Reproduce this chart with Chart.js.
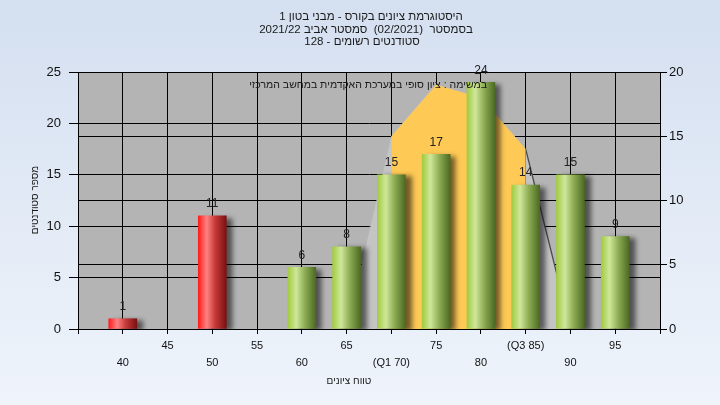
<!DOCTYPE html>
<html><head><meta charset="utf-8">
<script src="https://cdn.jsdelivr.net/npm/chart.js@4"></script>
<style>
html,body{margin:0;padding:0;width:720px;height:405px;overflow:hidden;background:linear-gradient(#d4dff0,#eff4fb);}
canvas{display:block;}
</style></head><body>
<canvas id="c" width="720" height="405"></canvas>
<script>
const titleLines = ['היסטוגרמת ציונים בקורס - מבני בטון 1', 'בסמסטר  (02/2021)  סמסטר אביב 2021/22', 'סטודנטים רשומים - 128'];
const legendText = 'במשימה : ציון סופי במערכת האקדמית במחשב המרכזי';
const xTitle = 'טווח ציונים';
const yTitle = 'מספר סטודנטים';
const grades = [40, 45, 50, 55, 60, 65, 70, 75, 80, 85, 90, 95];
const counts = [1, 0, 11, 0, 6, 8, 15, 17, 24, 14, 15, 9];
const passGrade = 56;
const curveGrades = [65, 70, 75, 80, 85, 90];
const curveValues = [0, 15, 19, 18, 14, 0];
const iqrGrades = [70, 75, 80, 85];
const iqrValues = [15, 19, 18, 14];
const specialTicks = {70: '(Q1 70)', 85: '(Q3 85)'};
const xMin = 35, xMax = 100;

const FONT = "'Liberation Sans','DejaVu Sans',Arial,sans-serif";

function barFill(c) {
  const chart = c.chart;
  const xs = chart.scales && chart.scales.x;
  if (!c.raw || !c.raw.y) return 'rgba(0,0,0,0)';
  const red = c.raw.x < passGrade;
  if (!xs) return red ? '#e03030' : '#9cc53c';
  const cx = xs.getPixelForValue(c.raw.x);
  if (!isFinite(cx)) return red ? '#e03030' : '#9cc53c';
  const half = 14;
  const g = chart.ctx.createLinearGradient(cx - half, 0, cx + half, 0);
  if (red) {
    g.addColorStop(0, '#ff1c1c'); g.addColorStop(0.3, '#ff8282');
    g.addColorStop(0.6, '#c83a3a'); g.addColorStop(1, '#7a1010');
  } else {
    g.addColorStop(0, '#a2cb40'); g.addColorStop(0.3, '#cfe79a');
    g.addColorStop(0.6, '#8fae55'); g.addColorStop(1, '#4c6a22');
  }
  return g;
}

const bgPlugin = {
  id: 'bg',
  beforeDraw(chart) {
    const a = chart.chartArea, ctx = chart.ctx;
    ctx.save(); ctx.fillStyle = '#b4b4b4';
    ctx.fillRect(a.left, a.top, a.right - a.left, a.bottom - a.top);
    ctx.restore();
  }
};
const shadowPlugin = {
  id: 'shadow',
  beforeDatasetDraw(chart, args) {
    if (args.index !== 0) return;
    const ctx = chart.ctx; ctx.save();
    ctx.shadowColor = 'rgba(0,0,0,0.55)'; ctx.shadowOffsetX = 6; ctx.shadowOffsetY = 2; ctx.shadowBlur = 5;
  },
  afterDatasetDraw(chart, args) {
    if (args.index !== 0) return;
    chart.ctx.restore();
  }
};
const textPlugin = {
  id: 'texts',
  afterDraw(chart) {
    const ctx = chart.ctx;
    ctx.save();
    ctx.fillStyle = '#1a1a1a';
    ctx.direction = 'rtl';
    ctx.textBaseline = 'middle';
    ctx.textAlign = 'center';
    ctx.font = '11.5px ' + FONT;
    const centers = [371, 366, 362];
    const ys = [17, 30, 42];
    titleLines.forEach((t, i) => ctx.fillText(t, centers[i], ys[i]));
    const meta = chart.getDatasetMeta(0);
    ctx.direction = 'ltr';
    ctx.fillStyle = '#222';
    ctx.font = '12px ' + FONT;
    meta.data.forEach((el, i) => {
      if (!counts[i]) return;
      ctx.fillText(String(counts[i]), el.x, el.y - 12);
    });
    ctx.direction = 'rtl';
    ctx.textAlign = 'right';
    ctx.fillStyle = '#1a1a1a';
    ctx.font = '10.5px ' + FONT;
    ctx.fillText(legendText, 487, 85);
    ctx.textAlign = 'center';
    ctx.font = '10px ' + FONT;
    ctx.fillText(xTitle, 349, 381);
    ctx.save();
    ctx.translate(35, 200);
    ctx.rotate(-Math.PI / 2);
    ctx.fillText(yTitle, 0, 0);
    ctx.restore();
    ctx.restore();
  }
};

new Chart(document.getElementById('c'), {
  type: 'bar',
  data: {
    datasets: [
      {
        type: 'bar', yAxisID: 'y', order: 0,
        data: grades.map((g, i) => ({x: g, y: counts[i]})),
        barThickness: 28, borderWidth: 0, backgroundColor: barFill
      },
      {
        type: 'line', yAxisID: 'y1', order: 1,
        data: iqrGrades.map((g, i) => ({x: g, y: iqrValues[i]})),
        fill: 'origin', backgroundColor: '#fec955', borderWidth: 0, pointRadius: 0, tension: 0
      },
      {
        type: 'line', yAxisID: 'y1', order: 2,
        data: curveGrades.map((g, i) => ({x: g, y: curveValues[i]})),
        fill: 'origin', backgroundColor: '#c4c4c4', borderWidth: 1.3, pointRadius: 0, tension: 0,
        borderColor: 'rgba(0,0,0,0)',
        segment: {borderColor: s => s.p0.parsed.x >= 85 ? '#4a4a4a' : 'rgba(0,0,0,0)'}
      }
    ]
  },
  options: {
    responsive: false, animation: false, devicePixelRatio: 1,
    layout: {padding: {top: 72, left: 0, right: 0, bottom: 0}},
    plugins: {legend: {display: false}, tooltip: {enabled: false}, title: {display: false}},
    scales: {
      x: {
        type: 'linear', min: xMin, max: xMax, offset: false,
        grid: {color: '#000', lineWidth: 1, tickLength: 5, offset: false, tickColor: '#000'},
        border: {color: '#000'},
        ticks: {
          stepSize: 5, autoSkip: false, maxRotation: 0, padding: 3, color: '#111',
          font: {family: FONT, size: 11, lineHeight: 1.6},
          callback: v => {
            if (v <= xMin || v >= xMax) return '';
            const lab = specialTicks[v] || String(v);
            return (v % 10 === 0) ? ['', lab] : lab;
          }
        },
        afterFit: s => { s.height = 76; }
      },
      y: {
        position: 'left', min: 0, max: 25,
        grid: {color: '#000', lineWidth: 1, tickLength: 9, tickColor: '#000'},
        border: {color: '#000'},
        ticks: {stepSize: 5, padding: 8, color: '#111', font: {family: FONT, size: 13}},
        afterFit: s => { s.width = 78; }
      },
      y1: {
        position: 'right', min: 0, max: 20,
        grid: {color: '#000', lineWidth: 1, tickLength: 7, tickColor: '#000'},
        border: {color: '#000'},
        ticks: {stepSize: 5, padding: 2, color: '#111', font: {family: FONT, size: 13}},
        afterFit: s => { s.width = 60; }
      }
    }
  },
  plugins: [bgPlugin, shadowPlugin, textPlugin]
});
</script>
</body></html>
